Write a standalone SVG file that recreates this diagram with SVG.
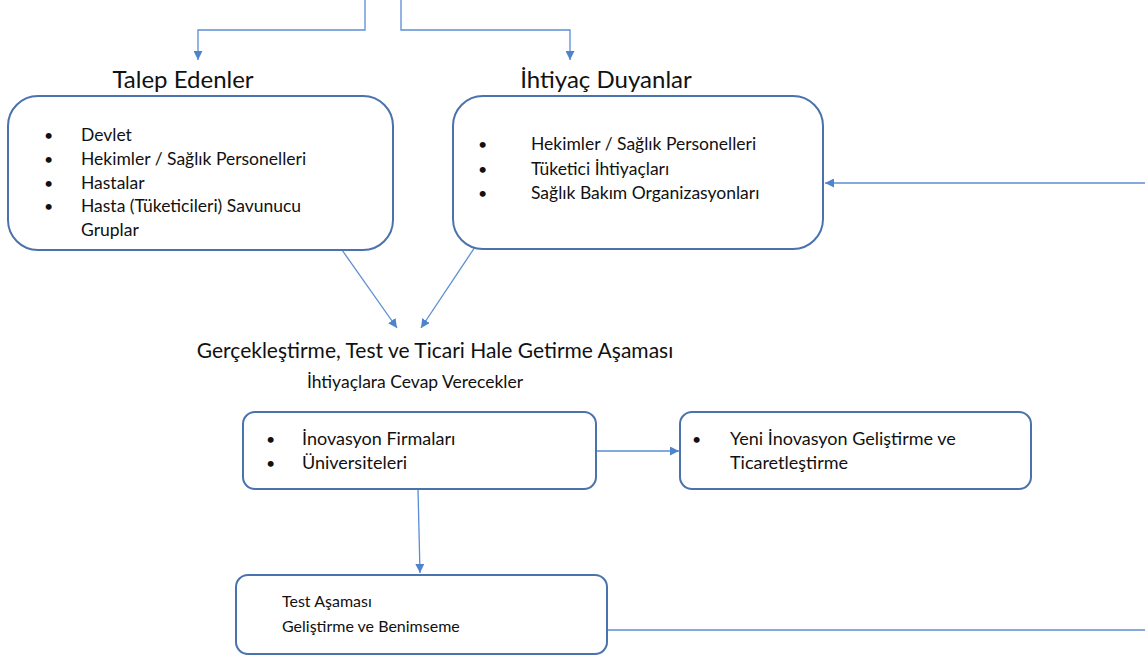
<svg xmlns="http://www.w3.org/2000/svg" width="1145" height="658" viewBox="0 0 1145 658">
<style>
text{font-family:Lato,"Open Sans","Liberation Sans",sans-serif;fill:#111}
.box{fill:#fff;stroke:#4a72ad;stroke-width:2}
.con{fill:none;stroke:#5b8dd3;stroke-width:1.3}
.t1{font-size:24px}
.t2{font-size:21px}
.t3{font-size:17.5px}
.b{font-size:17.5px}
.s{font-size:17.5px}
.s3{font-size:18px}
.sm{font-size:16px}
.dot{font-size:16px}
</style>
<defs>
<marker id="ah" viewBox="0 0 10 10" refX="10" refY="5" markerWidth="9" markerHeight="9" markerUnits="userSpaceOnUse" orient="auto">
<path d="M0,0 L10,5 L0,10 z" fill="#4f83cc"/>
</marker>
</defs>
<rect width="1145" height="658" fill="#fff"/>
<g id="connectors">
<path class="con" d="M365,0 V30 H198 V60" marker-end="url(#ah)"/>
<path class="con" d="M401,0 V30 H570 V60" marker-end="url(#ah)"/>
<path class="con" d="M342,250 L397,328" marker-end="url(#ah)"/>
<path class="con" d="M475,247 L421,328" marker-end="url(#ah)"/>
<path class="con" d="M1145,183 H825" marker-end="url(#ah)"/>
<path class="con" d="M596,451 H679" marker-end="url(#ah)"/>
<path class="con" d="M418,489 L420,573" marker-end="url(#ah)"/>
<path class="con" d="M607,630 H1145"/>
</g>
<g id="talep">
<text class="t1" x="183" y="88" text-anchor="middle">Talep Edenler</text>
<rect class="box" x="8" y="96" width="385" height="154" rx="30"/>
<g class="b">
<text class="dot" x="44" y="141">•</text><text x="81" y="141">Devlet</text>
<text class="dot" x="44" y="165">•</text><text x="81" y="165">Hekimler / Sağlık Personelleri</text>
<text class="dot" x="44" y="189">•</text><text x="81" y="189">Hastalar</text>
<text class="dot" x="44" y="212">•</text><text x="81" y="212">Hasta (Tüketicileri) Savunucu</text>
<text x="81" y="236">Gruplar</text>
</g>
</g>
<g id="ihtiyac">
<text class="t1" x="606" y="88" text-anchor="middle">İhtiyaç Duyanlar</text>
<rect class="box" x="453" y="96" width="370" height="153" rx="30"/>
<g class="s">
<text class="dot" x="478" y="150">•</text><text x="531" y="150">Hekimler / Sağlık Personelleri</text>
<text class="dot" x="478" y="175">•</text><text x="531" y="175">Tüketici İhtiyaçları</text>
<text class="dot" x="478" y="199">•</text><text x="531" y="199">Sağlık Bakım Organizasyonları</text>
</g>
</g>
<g id="asama">
<text class="t2" x="435" y="358" text-anchor="middle">Gerçekleştirme, Test ve Ticari Hale Getirme Aşaması</text>
<text class="t3" x="415" y="388" text-anchor="middle">İhtiyaçlara Cevap Verecekler</text>
</g>
<g id="firmalar">
<rect class="box" x="243" y="412" width="353" height="77" rx="12"/>
<g class="s3">
<text class="dot" x="266" y="445">•</text><text x="302" y="445">İnovasyon Firmaları</text>
<text class="dot" x="266" y="469">•</text><text x="302" y="469">Üniversiteleri</text>
</g>
</g>
<g id="yeni">
<rect class="box" x="680" y="412" width="351" height="77" rx="12"/>
<g class="s3">
<text class="dot" x="692" y="445">•</text><text x="730" y="445">Yeni İnovasyon Geliştirme ve</text>
<text x="730" y="469">Ticaretleştirme</text>
</g>
</g>
<g id="test">
<rect class="box" x="236" y="575" width="371" height="79" rx="12"/>
<g class="sm">
<text x="282" y="607">Test Aşaması</text>
<text x="282" y="632">Geliştirme ve Benimseme</text>
</g>
</g>
</svg>
